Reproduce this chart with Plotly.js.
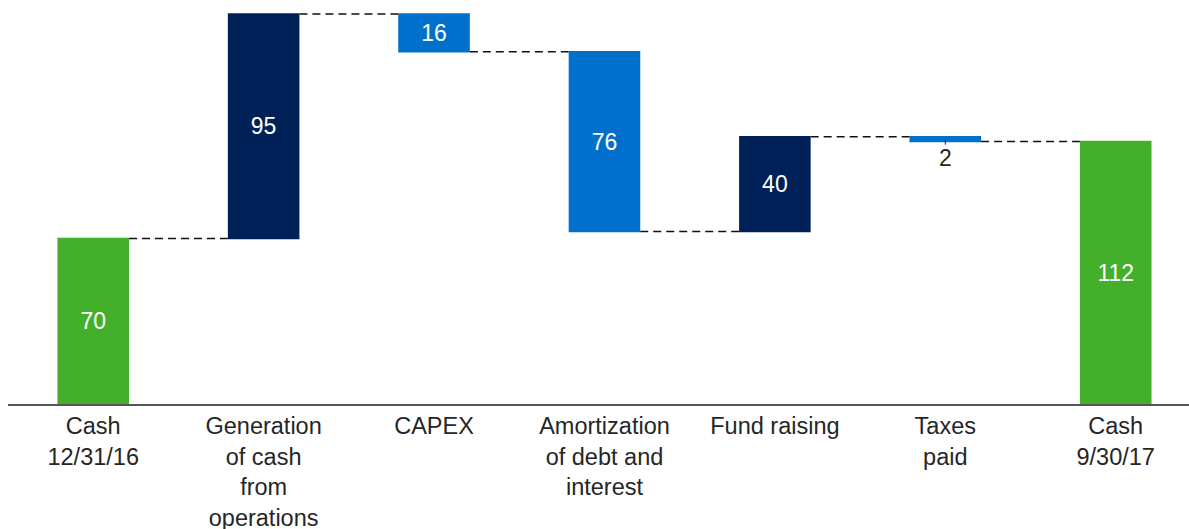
<!DOCTYPE html>
<html>
<head>
<meta charset="utf-8">
<script src="https://cdn.plot.ly/plotly-3.0.1.min.js"></script>
<style>html,body{margin:0;padding:0;background:#fff;}#chart{width:1189px;height:529px;}</style>
</head>
<body>
<div id="chart"></div>
<script>
// Data
const categories = ["Cash<br>12/31/16", "Generation<br>of cash<br>from<br>operations", "CAPEX", "Amortization<br>of debt and<br>interest", "Fund raising", "Taxes<br>paid", "Cash<br>9/30/17"];
const values = [70, 95, -16, -76, 40, -2, 112];
const measures = ["absolute", "relative", "relative", "relative", "relative", "relative", "total"];
const labels = ["70", "95", "16", "76", "40", "2", "112"];
const labelPositions = ["inside", "inside", "inside", "inside", "inside", "outside", "inside"];
const labelColors = ["#ffffff", "#ffffff", "#ffffff", "#ffffff", "#ffffff", "#262626", "#ffffff"];

const FONT = '"Liberation Sans", Arial, sans-serif';

// running level after each step (for leader line of outside label)
let level = 0; const levels = [];
values.forEach((v, i) => { if (measures[i] === 'absolute') level = v; else if (measures[i] === 'relative') level += v; levels.push(level); });
const outsideIdx = labelPositions.indexOf('outside');

const trace = {
  type: 'waterfall',
  x: categories,
  y: values,
  measure: measures,
  text: labels,
  textposition: labelPositions,
  textfont: {family: FONT, size: 23, color: labelColors},
  insidetextanchor: 'middle',
  constraintext: 'none',
  cliponaxis: false,
  increasing: {marker: {color: '#002157'}},
  decreasing: {marker: {color: '#0070cc'}},
  totals: {marker: {color: '#43af2b'}},
  connector: {mode: 'between', line: {color: '#111111', width: 1.5, dash: '8px,5px'}},
  hoverinfo: 'none'
};

const layout = {
  width: 1189, height: 529,
  margin: {l: 8, r: 0, t: 0, b: 125},
  paper_bgcolor: '#ffffff', plot_bgcolor: '#ffffff',
  showlegend: false,
  waterfallgap: 0.58,
  font: {family: FONT, size: 23, color: '#262626'},
  xaxis: {
    type: 'category',
    range: [-0.5, 6.43],
    showline: true, linecolor: '#555555', linewidth: 2,
    ticks: '', showgrid: false, zeroline: false,
    tickfont: {family: FONT, size: 23.5, color: '#262626'},
    fixedrange: true
  },
  yaxis: {
    range: [0, 170.9],
    visible: false, showgrid: false, zeroline: false,
    fixedrange: true
  },
  shapes: outsideIdx >= 0 ? [{
    type: 'line', xref: 'x', yref: 'y',
    x0: outsideIdx, x1: outsideIdx,
    ysizemode: 'pixel', yanchor: levels[outsideIdx],
    y0: 2, y1: -3,
    line: {color: '#262626', width: 1}
  }] : []
};

Plotly.newPlot('chart', [trace], layout, {staticPlot: true, displayModeBar: false});
</script>
</body>
</html>
